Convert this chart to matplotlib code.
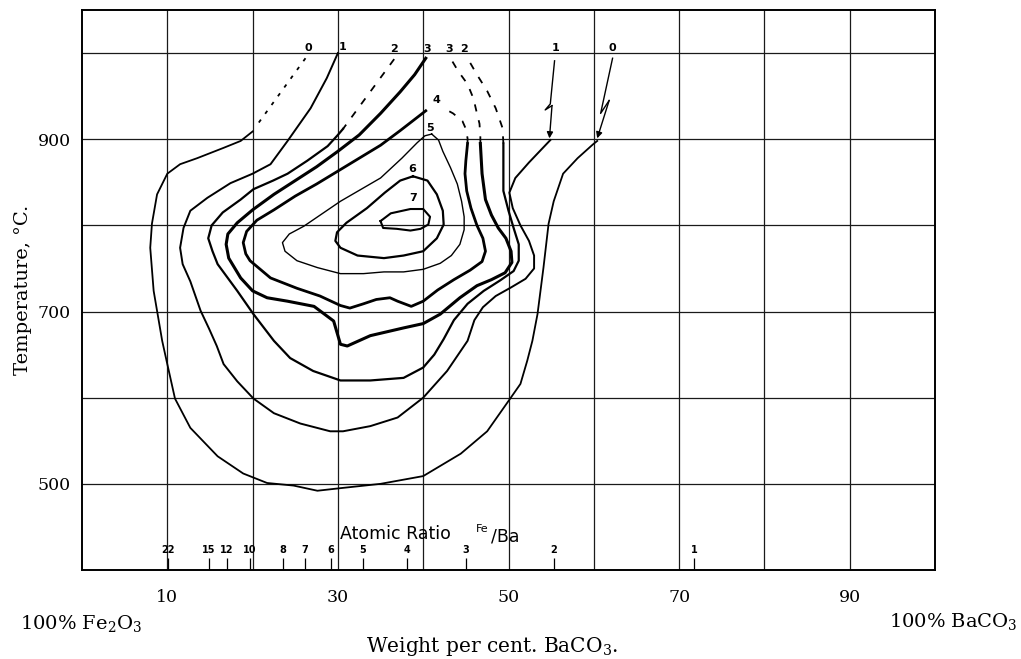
import matplotlib
matplotlib.use("Agg")
import matplotlib.pyplot as plt

plt.rcParams['font.family'] = 'DejaVu Serif'
plt.rcParams['mathtext.fontset'] = 'dejavuserif'

# ---------------- data ----------------
# curve 0 (outermost)
c0_dot_x = [26.2, 20.7]
c0_dot_y = [994, 919]
c0_x = [20.0, 18.6, 16.6, 13.5, 11.5, 10.0, 8.8, 8.2, 8.0, 8.4, 9.4, 10.0, 10.9, 12.7, 15.9, 18.9,
        21.7, 24.8, 27.6, 30.3, 35.0, 40.0, 44.4, 47.5, 50.2, 51.4, 52.2, 52.8, 53.4, 54.1, 54.7,
        55.3, 56.4, 58.1, 59.9, 60.4]
c0_y = [909, 898, 890, 878, 871, 860, 836, 802, 774, 724, 666, 639, 599, 565, 532, 512,
        501, 498, 492, 495, 500, 509, 535, 561, 599, 616, 643, 666, 697, 751, 802,
        828, 860, 878, 894, 898]
# curve 1
c1_x = [30.0, 28.7, 26.8, 24.1, 22.1, 20.0, 17.4, 14.7, 12.7, 11.9, 11.5, 11.8, 12.7, 13.9, 14.9,
        15.8, 16.6, 18.2, 20.1, 22.5, 25.6, 29.1, 30.6, 33.8, 37.0, 40.0, 42.8, 45.2, 46.0, 47.0,
        48.5, 50.3, 52.0, 53.0, 53.0, 52.4, 51.4, 50.5, 50.1, 50.8, 52.4, 54.9]
c1_y = [1000, 971, 936, 898, 871, 860, 849, 832, 817, 797, 774, 755, 735, 701, 680,
        660, 639, 619, 599, 582, 570, 561, 561, 567, 577, 600, 631, 666, 690, 705,
        718, 728, 738, 750, 765, 782, 800, 820, 838, 855, 873, 899]
# curve 2
c2_dash_left_x = [36.6, 30.6]
c2_dash_left_y = [993, 912]
c2_x = [30.6, 30.0, 28.8, 26.4, 24.1, 22.4, 20.1, 18.6, 16.5, 15.2, 14.8, 15.3, 15.9, 18.2, 20.1,
        22.5, 24.4, 27.1, 30.3, 33.8, 37.7, 40.0, 41.3, 42.4, 43.6, 45.2, 47.1, 49.0, 50.6, 51.2,
        51.2, 50.6, 50.0, 49.4, 49.4, 49.4]
c2_y = [912, 905, 892, 875, 860, 852, 842, 830, 815, 800, 785, 770, 755, 724, 697,
        666, 646, 631, 620, 620, 623, 635, 650, 668, 690, 709, 724, 736, 747, 759,
        778, 797, 817, 840, 867, 895]
c2_dash_right_x = [49.4, 49.3, 48.5, 47.5, 46.3, 45.2]
c2_dash_right_y = [895, 913, 936, 956, 975, 994]
# curve 3
c3_x = [40.3, 39.0, 37.3, 35.0, 32.5, 30.0, 27.5, 25.0, 22.5, 20.0, 18.2, 17.1, 16.9, 17.2, 18.6,
        20.0, 21.7, 24.1, 27.2, 29.5, 30.3, 31.1, 33.8, 37.7, 40.0, 42.0, 44.3, 46.3, 48.0, 49.6,
        50.4, 50.3, 49.7, 48.8, 48.0, 47.3, 46.9, 46.7]
c3_y = [994, 975, 955, 930, 905, 886, 868, 852, 836, 818, 803, 790, 778, 762, 739,
        724, 716, 712, 706, 689, 662, 660, 672, 681, 686, 697, 716, 730, 737, 745,
        757, 770, 785, 797, 812, 830, 860, 895]
c3_dash_right_x = [46.7, 46.7, 46.6, 46.3, 45.9, 45.2, 44.1, 43.2]
c3_dash_right_y = [895, 902, 918, 930, 947, 964, 979, 994]
# curve 4
c4_x = [40.3, 37.3, 35.0, 32.5, 30.0, 27.5, 25.0, 22.5, 20.5, 19.3, 18.9, 19.2, 19.7, 22.1, 25.2,
        27.9, 30.3, 31.4, 33.0, 34.5, 36.1, 37.0, 38.6, 40.0, 41.7, 43.6, 45.5, 46.9, 47.3, 47.0,
        46.3, 45.6, 45.1, 44.9, 45.0, 45.2]
c4_y = [933, 910, 893, 878, 863, 848, 834, 818, 806, 793, 780, 767, 759, 739, 727,
        718, 707, 704, 709, 714, 716, 712, 706, 712, 725, 737, 748, 758, 770, 785,
        800, 820, 840, 860, 875, 895]
c4_dash_right_x = [45.2, 45.2, 45.0, 44.6, 43.5, 42.4]
c4_dash_right_y = [895, 901, 912, 921, 930, 936]
# curve 5
c5_x = [41.0, 41.8, 42.3, 43.2, 44.0, 44.5, 44.8, 44.8, 44.3, 43.3, 42.0, 40.0, 37.7, 35.4,
        33.0, 30.3, 27.6, 25.2, 23.8, 23.5, 24.3, 26.0, 30.3, 35.0, 37.5, 39.3, 40.2, 41.0]
c5_y = [906, 899, 886, 867, 848, 828, 810, 795, 778, 765, 756, 749, 746, 746,
        744, 744, 751, 759, 770, 780, 790, 799, 828, 855, 878, 896, 904, 906]
# curve 6
c6_x = [38.8, 40.5, 41.6, 42.3, 42.4, 41.6, 40.0, 37.7, 35.4, 32.3, 30.3, 29.7, 29.9, 31.0,
        33.4, 35.5, 37.3, 38.8]
c6_y = [857, 852, 836, 817, 801, 785, 770, 765, 762, 765, 774, 782, 792, 803,
        820, 838, 852, 857]
# curve 7
c7_x = [35.0, 36.2, 38.5, 40.0, 40.8, 40.6, 39.7, 38.5, 36.9, 35.3, 35.0]
c7_y = [805, 814, 819, 819, 810, 801, 796, 794, 796, 797, 805]

# break arrows on the right
arrow1_x = [55.4, 54.9, 54.3, 55.1, 54.8]
arrow1_y = [991, 941, 934, 939, 901]
arrow0_x = [62.2, 60.8, 61.8, 60.4]
arrow0_y = [994, 930, 945, 901]

# curve labels
lbl_text = ['0', '1', '2', '3', '3', '2', '1', '0', '4', '5', '6', '7']
lbl_x = [26.5, 30.5, 36.6, 40.5, 43.0, 44.8, 55.5, 62.2, 41.5, 40.8, 38.7, 38.8]
lbl_y = [1006, 1007, 1005, 1005, 1005, 1005, 1006, 1006, 946, 913, 866, 832]

# atomic ratio scale
ratio_labels = ['22', '15', '12', '10', '8', '7', '6', '5', '4', '3', '2', '1']
ratio_pos = [10.1, 14.9, 17.0, 19.7, 23.6, 26.1, 29.2, 32.9, 38.1, 45.0, 55.3, 71.8]

x_ticks = [10, 30, 50, 70, 90]
x_minor = [20, 40, 60, 80]
y_ticks = [500, 700, 900]
y_minor = [600, 800, 1000]

# ---------------- figure ----------------
fig = plt.figure(figsize=(10.21, 6.59), dpi=100)
ax = fig.add_axes([82 / 1021, 89 / 659, 853 / 1021, 560 / 659])
ax.set_xlim(0, 100)
ax.set_ylim(400, 1050)

ax.set_xticks(x_ticks)
ax.set_xticks(x_minor, minor=True)
ax.set_yticks(y_ticks)
ax.set_yticks(y_minor, minor=True)
ax.tick_params(which='both', length=0)
ax.tick_params(axis='x', pad=14, labelsize=12.5)
ax.tick_params(axis='y', pad=8, labelsize=12.5)
ax.grid(True, which='both', color='#1a1a1a', lw=0.9)
ax.set_axisbelow(True)
for s in ax.spines.values():
    s.set_linewidth(1.4)
    s.set_color('black')

ax.set_ylabel('Temperature, °C.', fontsize=14, labelpad=4)

k = 'black'
ax.plot(c0_dot_x, c0_dot_y, color=k, lw=1.3, dashes=(2, 4))
ax.plot(c0_x, c0_y, color=k, lw=1.3, solid_joinstyle='round')
ax.plot(c1_x, c1_y, color=k, lw=1.4, solid_joinstyle='round')
ax.plot(c2_dash_left_x, c2_dash_left_y, color=k, lw=1.3, dashes=(4, 5))
ax.plot(c2_x, c2_y, color=k, lw=1.6, solid_joinstyle='round')
ax.plot(c2_dash_right_x, c2_dash_right_y, color=k, lw=1.3, dashes=(4, 5))
ax.plot(c3_x, c3_y, color=k, lw=2.2, solid_joinstyle='round')
ax.plot(c3_dash_right_x, c3_dash_right_y, color=k, lw=1.3, dashes=(4, 5))
ax.plot(c4_x, c4_y, color=k, lw=2.0, solid_joinstyle='round')
ax.plot(c4_dash_right_x, c4_dash_right_y, color=k, lw=1.3, dashes=(4, 5))
ax.plot(c5_x, c5_y, color=k, lw=1.0, solid_joinstyle='round')
ax.plot(c6_x, c6_y, color=k, lw=1.6, solid_joinstyle='round')
ax.plot(c7_x, c7_y, color=k, lw=1.5, solid_joinstyle='round')

for ax_x, ax_y in ((arrow1_x, arrow1_y), (arrow0_x, arrow0_y)):
    ax.plot(ax_x[:-1], ax_y[:-1], color=k, lw=1.0)
    ax.annotate('', xy=(ax_x[-1], ax_y[-1]), xytext=(ax_x[-2], ax_y[-2]),
                arrowprops=dict(arrowstyle='-|>', color=k, lw=1.0, mutation_scale=9,
                                shrinkA=0, shrinkB=0))

for t, x, y in zip(lbl_text, lbl_x, lbl_y):
    ax.text(x, y, t, fontsize=8, family='DejaVu Sans', weight='bold',
            ha='center', va='center')

# atomic ratio scale
ax.vlines(ratio_pos, 400, 414, color=k, lw=0.9)
for t, x in zip(ratio_labels, ratio_pos):
    ax.text(x, 423.5, t, fontsize=7, family='DejaVu Sans', weight='bold',
            ha='center', va='center')
ax.text(30.3, 442, 'Atomic Ratio', fontsize=12.5, family='DejaVu Sans',
        ha='left', va='center')
ax.text(46.2, 448, 'Fe', fontsize=8, family='DejaVu Sans', ha='left', va='center')
ax.text(48.0, 439, '/Ba', fontsize=12.5, family='DejaVu Sans', ha='left', va='center')

# outer texts
fig.text(20 / 1021, 1 - 624 / 659, '100% Fe$_2$O$_3$', fontsize=14, ha='left', va='center')
fig.text(1018 / 1021, 1 - 621 / 659, '100% BaCO$_3$', fontsize=14, ha='right', va='center')
fig.text(492 / 1021, 1 - 647 / 659, 'Weight per cent. BaCO$_3$.', fontsize=14.5,
         ha='center', va='center')

fig.savefig('out.png', dpi=100)
